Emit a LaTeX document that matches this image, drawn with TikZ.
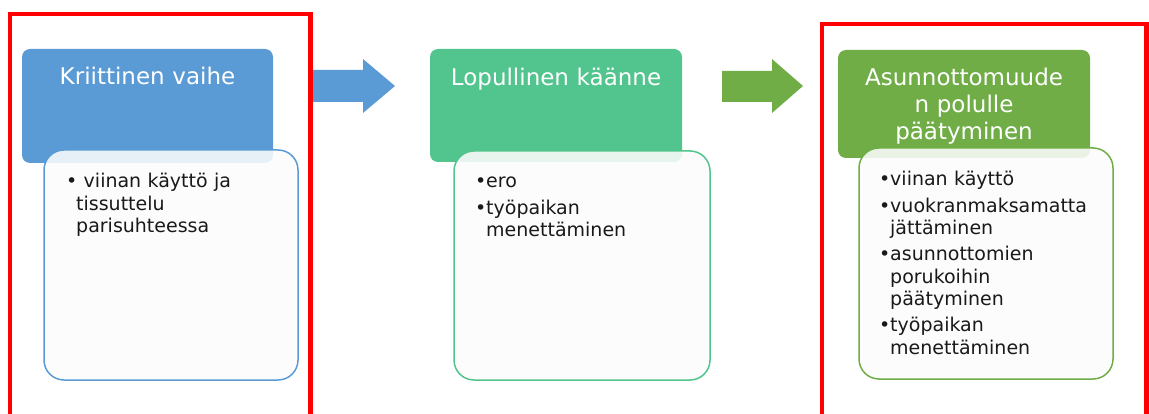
\documentclass[tikz,border=0pt]{standalone}
\usepackage{fontspec}
\setmainfont{DejaVu Sans}
\definecolor{hblue}{RGB}{91,155,213}
\definecolor{hmint}{RGB}{82,196,142}
\definecolor{hgreen}{RGB}{112,173,71}
\definecolor{boxfill}{RGB}{252,252,252}
\newcommand\bl{\makebox[11pt][l]{•}}
\newcommand\ind{\hspace*{11pt}}
\tikzset{
  head/.style={fill=#1, rounded corners=8pt, inner sep=0pt},
  bodybox/.style={draw=#1, line width=1.5pt, fill=boxfill, fill opacity=0.88, draw opacity=1, rounded corners=20pt, inner sep=0pt},
  headtext/.style={text=white, anchor=base, text width=246pt, align=center, inner sep=0pt, font=\fontsize{23}{27}\selectfont},
  bodytext/.style={anchor=base west, text width=225pt, align=left, inner sep=0pt, text=black!90, font=\fontsize{19}{22.3}\selectfont},
  frame/.style={draw=red, line width=4.5pt},
  bigarrow/.style={fill=#1}
}
\begin{document}
\begin{tikzpicture}[x=1pt,y=-1pt]
\useasboundingbox (0,0) rectangle (1149,414);
% frames
\draw[frame] (10,416) -- (10,14) -- (310.5,14) -- (310.5,416);
\draw[frame] (822,416) -- (822,24) -- (1146.5,24) -- (1146.5,416);
% arrows
\fill[bigarrow=hblue] (313,70) -- (363,70) -- (363,59) -- (395,86) -- (363,113) -- (363,102) -- (313,102) -- cycle;
\fill[bigarrow=hgreen] (722,71) -- (772,71) -- (772,59) -- (803,86) -- (772,113) -- (772,102) -- (722,102) -- cycle;
% stage 1
\node[head=hblue, minimum width=251pt, minimum height=114pt] (h1) at (147.5,106) {};
\node[bodybox=hblue, minimum width=254pt, minimum height=230pt] (w1) at (171,265) {};
\node[headtext] (t1) at (147.5,85) {Kriittinen vaihe};
\node[bodytext] (b1) at (66,188) {•\ viinan käyttö ja\\\hspace*{10pt}tissuttelu\\\hspace*{10pt}parisuhteessa};
% stage 2
\node[head=hmint, minimum width=252pt, minimum height=113pt] (h2) at (556,105.5) {};
\node[bodybox=hmint, minimum width=256pt, minimum height=229pt] (w2) at (582,265.5) {};
\node[headtext] (t2) at (556,86) {Lopullinen käänne};
\node[bodytext] (b2) at (475,188) {\bl ero\\[4pt]\bl työpaikan\\\ind menettäminen};
% stage 3
\node[head=hgreen, minimum width=252pt, minimum height=108pt] (h3) at (964,104) {};
\node[bodybox=hgreen, minimum width=254pt, minimum height=231pt] (w3) at (986,263.5) {};
\node[headtext] (t3) at (964,86) {Asunnottomuude\\n polulle\\päätyminen};
\node[bodytext] (b3) at (879,186) {\bl viinan käyttö\\[4pt]\bl vuokranmaksamatta\\\ind jättäminen\\[4pt]\bl asunnottomien\\\ind porukoihin\\\ind päätyminen\\[4pt]\bl työpaikan\\\ind menettäminen};
\end{tikzpicture}
\end{document}
